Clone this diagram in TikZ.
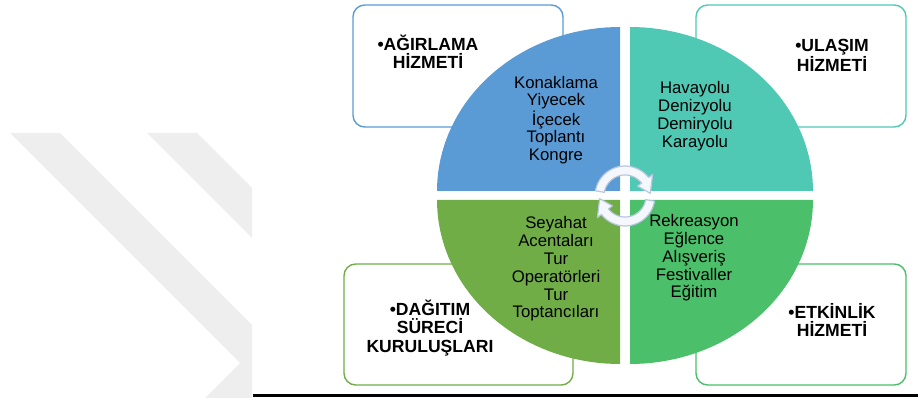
\documentclass[tikz,border=0pt]{standalone}
\usepackage{fontspec}
\setmainfont{Liberation Sans}
\usepackage{xcolor}
\usepackage{tikz}
\usetikzlibrary{arrows, positioning}

\definecolor{qblue}{HTML}{5B9BD5}
\definecolor{qteal}{HTML}{4FC9B4}
\definecolor{qolive}{HTML}{70AD47}
\definecolor{qgreen}{HTML}{4BBF6A}
\definecolor{okcizgi}{HTML}{B7C6E2}
\definecolor{okdolgu}{HTML}{F4F7FC}
\definecolor{filigran}{HTML}{EEEEEE}

\begin{document}
\begin{tikzpicture}[x=0.03cm, y=-0.03cm,
			kutu/.style={line width=1.2pt, rounded corners=10pt, fill=white},
			ic/.style={align=center, inner sep=0pt, font=\fontsize{14.3}{15.2}\selectfont},
			baslik/.style={align=center, inner sep=0pt, font=\bfseries\fontsize{15}{15.5}\selectfont},
			ok/.style={fill=okdolgu, draw=okcizgi, line width=1pt, line join=round}]
			
			\useasboundingbox (0,0) rectangle (918,398);
			
			% background mark
			\begin{scope}
				\clip (0,0) rectangle (252,398);
				\fill[filigran] (10,133) -- (60,133) -- (290,363) -- (255,398) -- (205,398) -- (240,363) -- cycle;
				\fill[filigran] (147,133) -- (197,133) -- (300,236) -- (300,286) -- cycle;
			\end{scope}
			
			% outer boxes
			\draw[kutu, draw=qblue] (353,5) rectangle (563,127);
			\draw[kutu, draw=qteal] (696,5) rectangle (906,127);
			\draw[kutu, draw=qolive] (344,264) rectangle (573,385);
			\draw[kutu, draw=qgreen] (696,264) rectangle (906,385);
			
			% quarters
			\fill[qblue] (620,191) -- plot[domain=0:90, samples=40] ({620-183*cos(\x)},{191-164*sin(\x)}) -- cycle;
			\fill[qteal] (630,191) -- plot[domain=0:90, samples=40] ({630+183*cos(\x)},{191-164*sin(\x)}) -- cycle;
			\fill[qolive] (620,200) -- plot[domain=0:90, samples=40] ({620-183*cos(\x)},{200+164*sin(\x)}) -- cycle;
			\fill[qgreen] (630,200) -- plot[domain=0:90, samples=40] ({630+183*cos(\x)},{200+164*sin(\x)}) -- cycle;
			
			% round arrows
			\begin{scope}[shift={(625,196)}, yscale=-1]
				\draw[ok] plot[domain=170:38, samples=20] (\x:30) -- (38:35) -- (6:25.5) -- (38:16) -- plot[domain=38:170, samples=20] (\x:21) -- cycle;
			\end{scope}
			\begin{scope}[shift={(625,196)}, yscale=-1, rotate=180]
				\draw[ok] plot[domain=170:38, samples=20] (\x:30) -- (38:35) -- (6:25.5) -- (38:16) -- plot[domain=38:170, samples=20] (\x:21) -- cycle;
			\end{scope}
			
			\node (konak) [ic] at (556,120) {Konaklama\\Yiyecek\\İçecek\\Toplantı\\Kongre};
			\node (yol) [ic] at (695,116) {Havayolu\\Denizyolu\\Demiryolu\\Karayolu};
			\node (acente) [ic] at (556,269) {Seyahat\\Acentaları\\Tur\\Operatörleri\\Tur\\Toptancıları};
			\node (eglence) [ic] at (694,258) {Rekreasyon\\Eğlence\\Alışveriş\\Festivaller\\Eğitim};
			
			\node (agirlama) [baslik] at (428,52) {•AĞIRLAMA\\HİZMETİ};
			\node (ulasim) [baslik] at (832,55) {•ULAŞIM\\HİZMETİ};
			\node (dagitim) [baslik] at (430,328) {•DAĞITIM\\SÜRECİ\\KURULUŞLARI};
			\node (etkinlik) [baslik] at (832,320) {•ETKİNLİK\\HİZMETİ};
			
			\draw[black, line width=2.5pt] (253,395.5) -- (918,395.5);
		\end{tikzpicture}
\end{document}
